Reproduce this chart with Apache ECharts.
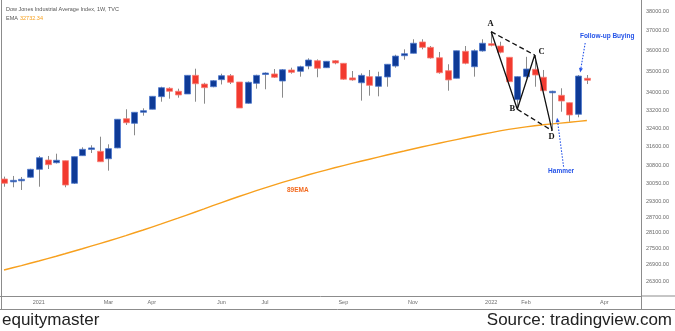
<!DOCTYPE html>
<html>
<head>
<meta charset="utf-8">
<script src="https://cdn.jsdelivr.net/npm/echarts@6/dist/echarts.min.js"></script>
<style>
  html, body { margin: 0; padding: 0; background: #ffffff; }
  #chart { width: 675px; height: 331px; }
</style>
</head>
<body>
<div id="chart"></div>
<script>
// Dow Jones Industrial Average, weekly candles, Dec 2020 – Mar 2022, with 89-week EMA
const firstWeek = Date.UTC(2020, 11, 7);
const totalSlots = 74;                 // axis runs a few weeks past the last candle
const weeks = [];
for (let k = 0; k < totalSlots; k++) {
  weeks.push(new Date(firstWeek + k * 7 * 864e5).toISOString().slice(0, 10));
}

const opens = [30225, 30131, 30155, 30297, 30628, 31019, 30903, 30989, 30050, 31202,
  31474, 31388, 31072, 31533, 32814, 32608, 33102, 33238, 33814, 34202,
  34063, 33938, 34811, 34401, 34276, 34607, 34795, 34497, 33511, 34434,
  34860, 34876, 34543, 35066, 35003, 35255, 35512, 35175, 35512, 35386,
  34689, 34461, 34748, 34294, 34733, 35255, 35754, 35872, 36430, 36165,
  35656, 35032, 34672, 35970, 35222, 35987, 36344, 36230, 35677, 33676,
  34748, 35100, 34720, 34000, 33876, 33537, 33012, 34672];
const closes = [30050, 30171, 30213, 30628, 31116, 30821, 31007, 29979, 31160, 31474,
  31533, 30946, 31502, 32789, 32634, 33102, 33175, 33830, 34231, 34063,
  33893, 34811, 34415, 34231, 34558, 34795, 34483, 33296, 34483, 34811,
  34921, 34720, 35079, 34954, 35222, 35546, 35147, 35483, 35400, 34627,
  34593, 34811, 34340, 34748, 35340, 35738, 35852, 36366, 36165, 35644,
  34936, 34593, 35998, 35386, 35998, 36366, 36263, 35922, 34511, 34748,
  35112, 34827, 34090, 34063, 33614, 32981, 34778, 34578];
const highs = [30324, 30351, 30309, 30650, 31190, 31190, 31286, 30989, 31160, 31560,
  31647, 32019, 31689, 32789, 33238, 33102, 33281, 33830, 34276, 34247,
  34184, 34811, 35127, 34461, 34590, 34888, 34870, 34497, 34520, 34840,
  34954, 35112, 35112, 35175, 35270, 35628, 35575, 35490, 35546, 35386,
  35017, 34905, 35066, 34983, 35340, 35802, 36066, 36565, 36565, 36230,
  35937, 35340, 35998, 36230, 36066, 36565, 36944, 36442, 35677, 34760,
  35700, 35787, 35066, 34090, 34202, 33537, 34827, 34827];
const lows = [29910, 29887, 29777, 30280, 29910, 30640, 30870, 29887, 30021, 31202,
  31316, 30946, 30571, 31520, 32535, 32081, 32950, 33238, 33582, 33721,
  33767, 33938, 33582, 33492, 34247, 34381, 34401, 33296, 33492, 34184,
  34156, 34689, 33767, 34889, 34748, 35100, 34720, 35160, 35340, 34600,
  34558, 33631, 33858, 33830, 34276, 35175, 35560, 35872, 36066, 35612,
  34889, 34090, 34672, 35340, 34748, 35950, 36214, 35872, 34497, 33238,
  34672, 34276, 34063, 32283, 33127, 32681, 32878, 34401];
const ema89 = [26702, 26782, 26862, 26947, 27031, 27120, 27208, 27298, 27391, 27484,
  27582, 27680, 27778, 27880, 27983, 28090, 28197, 28309, 28421, 28537,
  28654, 28775, 28897, 29020, 29146, 29270, 29394, 29514, 29631, 29748,
  29862, 29976, 30087, 30193, 30296, 30400, 30499, 30595, 30691, 30783,
  30875, 30964, 31052, 31141, 31231, 31316, 31401, 31487, 31573, 31655,
  31737, 31815, 31893, 31971, 32050, 32124, 32198, 32273, 32339, 32396,
  32450, 32498, 32543, 32583, 32618, 32654, 32694, 32732.34];

const yTicks = [38000, 37000, 36000, 35000, 34000, 33200, 32400, 31600,
  30800, 30050, 29300, 28700, 28100, 27500, 26900, 26300];
const monthLabels = {
  '2021-01-04': '2021', '2021-03-01': 'Mar', '2021-04-05': 'Apr', '2021-05-31': 'Jun',
  '2021-07-05': 'Jul', '2021-09-06': 'Sep', '2021-11-01': 'Nov', '2022-01-03': '2022',
  '2022-01-31': 'Feb', '2022-04-04': 'Apr'
};
const monthTickIdx = weeks.map((w, i) => (monthLabels[w] ? i : -1)).filter(i => i >= 0);

// Diamond-shaped reversal: A (top), B (low), C (lower high), D (lower low)
const patternNames = ['A', 'B', 'C', 'D'];
const patternWeeks = [56, 59, 61, 63];
const patternValues = [highs[56], lows[59], highs[61], lows[63]];

const BLUE = '#0e3a96', BLUE_EDGE = '#4f78cc';
const RED = '#f23a2f', RED_EDGE = '#f77d75';
const WICK = '#8a8a8a';
const AXIS = '#8c8c8c';
const EMA_COLOR = '#f7a01e';
const NOTE_BLUE = '#2453e8';

const candleData = opens.map((o, i) => [i, o, closes[i], lows[i], highs[i]]);
const emaData = ema89.map((v, i) => [i, v]);

const chart = echarts.init(document.getElementById('chart'), null, { renderer: 'canvas' });

chart.setOption({
  animation: false,
  backgroundColor: '#ffffff',
  grid: { left: 0, right: 34, top: 0, bottom: 35, containLabel: false, outerBoundsMode: 'none' },
  xAxis: {
    type: 'value',
    min: -0.46,
    max: 73.22,
    axisLine: { show: true, onZero: false, lineStyle: { color: AXIS, width: 1 } },
    axisTick: { show: false },
    splitLine: { show: false },
    axisLabel: {
      customValues: monthTickIdx,
      formatter: (v) => monthLabels[weeks[Math.round(v)]] || '',
      fontSize: 5.5,
      color: '#6e6e6e',
      fontFamily: 'Liberation Sans',
      margin: 3
    }
  },
  yAxis: {
    type: 'log',
    position: 'right',
    min: 25772,
    max: 38574,
    axisLine: { show: true, onZero: false, lineStyle: { color: AXIS, width: 1 } },
    axisTick: { show: false },
    splitLine: { show: false },
    axisLabel: {
      customValues: yTicks,
      formatter: (v) => Number(v).toFixed(2),
      fontSize: 5.5,
      color: '#6a6a6a',
      fontFamily: 'Liberation Sans',
      margin: 5
    }
  },
  series: [
    {
      name: 'EMA 89',
      type: 'line',
      data: emaData,
      symbol: 'none',
      smooth: false,
      lineStyle: { color: EMA_COLOR, width: 1.4 },
      z: 2
    },
    {
      name: 'DJI',
      type: 'custom',
      data: candleData,
      encode: { x: 0, y: [1, 2, 3, 4] },
      z: 3,
      renderItem: (params, api) => {
        const i = api.value(0);
        const o = api.value(1), c = api.value(2), l = api.value(3), h = api.value(4);
        const pO = api.coord([i, o]), pC = api.coord([i, c]);
        const pL = api.coord([i, l]), pH = api.coord([i, h]);
        const w = 6;
        const up = c >= o;
        const top = Math.min(pO[1], pC[1]);
        const bot = Math.max(pO[1], pC[1]);
        const x = Math.round(pO[0]);
        return {
          type: 'group',
          children: [
            { type: 'line', shape: { x1: x + 0.5, y1: pH[1], x2: x + 0.5, y2: pL[1] },
              style: { stroke: WICK, lineWidth: 1 } },
            { type: 'rect', shape: { x: x - w / 2 + 0.5, y: top, width: w, height: Math.max(bot - top, 1.5) },
              style: { fill: up ? BLUE : RED, stroke: up ? BLUE_EDGE : RED_EDGE, lineWidth: 0.8 } }
          ]
        };
      }
    },
    {
      name: 'pattern',
      type: 'line',
      data: patternWeeks.map((w, k) => [w, patternValues[k]]),
      symbol: 'none',
      lineStyle: { color: '#111111', width: 1.3 },
      z: 5
    },
    {
      name: 'pattern AC',
      type: 'line',
      data: [[patternWeeks[0], patternValues[0]], [patternWeeks[2], patternValues[2]]],
      symbol: 'none',
      lineStyle: { color: '#111111', width: 1.3, type: [5, 3] },
      z: 5
    },
    {
      name: 'pattern BD',
      type: 'line',
      data: [[patternWeeks[1], patternValues[1]], [patternWeeks[3], patternValues[3]]],
      symbol: 'none',
      lineStyle: { color: '#111111', width: 1.3, type: [5, 3] },
      z: 5
    }
  ]
});

// Annotations anchored on data points
const toPx = (i, v) => chart.convertToPixel({ xAxisIndex: 0, yAxisIndex: 0 }, [i, v]);

function dottedArrow(from, to) {
  const dx = to[0] - from[0], dy = to[1] - from[1];
  const len = Math.hypot(dx, dy);
  const ux = dx / len, uy = dy / len;
  const hl = 4.5, hw = 2;
  const base = [to[0] - ux * hl, to[1] - uy * hl];
  return [
    { type: 'line', shape: { x1: from[0], y1: from[1], x2: base[0], y2: base[1] },
      style: { stroke: NOTE_BLUE, lineWidth: 1.1, lineDash: [1.5, 1.5] }, z: 10 },
    { type: 'polygon', shape: { points: [to, [base[0] - uy * hw, base[1] + ux * hw], [base[0] + uy * hw, base[1] - ux * hw]] },
      style: { fill: NOTE_BLUE }, z: 10 }
  ];
}

const follow = toPx(66, highs[66]);
const hammer = toPx(63, lows[63]);
const emaMark = toPx(34, ema89[34]);

// letter offsets around each pattern vertex
const letterOffsets = [[-0.5, -8], [-5, 0], [7, -3], [-0.5, 6]];
const patternLetters = patternNames.map((name, k) => {
  const p = toPx(patternWeeks[k], patternValues[k]);
  return { type: 'text', z: 10, style: {
    x: p[0] + letterOffsets[k][0], y: p[1] + letterOffsets[k][1], text: name,
    font: 'bold 8.5px "Liberation Serif"', fill: '#111111',
    textAlign: 'center', textVerticalAlign: 'middle' } };
});

const graphics = [
  // frame
  { type: 'line', shape: { x1: 1.5, y1: 0, x2: 1.5, y2: 310 }, style: { stroke: AXIS, lineWidth: 1 } },
  { type: 'line', shape: { x1: 0, y1: 309.5, x2: 675, y2: 309.5 }, style: { stroke: AXIS, lineWidth: 1 } },
  { type: 'line', shape: { x1: 641, y1: 296, x2: 675, y2: 296 }, style: { stroke: AXIS, lineWidth: 1 } },
  { type: 'line', shape: { x1: 641.5, y1: 296, x2: 641.5, y2: 310 }, style: { stroke: AXIS, lineWidth: 1 } },
  // header
  { type: 'text', style: { x: 6, y: 9.5, text: 'Dow Jones Industrial Average Index, 1W, TVC',
      font: '5.5px "Liberation Sans"', fill: '#555555', textVerticalAlign: 'middle' } },
  { type: 'text', style: { x: 6, y: 18.5, text: 'EMA', font: '5.5px "Liberation Sans"',
      fill: '#555555', textVerticalAlign: 'middle' } },
  { type: 'text', style: { x: 20, y: 18.5, text: ema89[ema89.length - 1].toFixed(2),
      font: '5.5px "Liberation Sans"', fill: EMA_COLOR, textVerticalAlign: 'middle' } },
  // EMA label
  { type: 'text', style: { x: emaMark[0] - 2, y: emaMark[1] + 13, text: '89EMA',
      font: 'bold 6.5px "Liberation Sans"', fill: '#f26a1f', textAlign: 'center', textVerticalAlign: 'middle' } },
  ...patternLetters,
  // notes
  { type: 'text', style: { x: follow[0] + 29, y: follow[1] - 39, text: 'Follow-up Buying',
      font: 'bold 6.5px "Liberation Sans"', fill: NOTE_BLUE, textAlign: 'center', textVerticalAlign: 'middle' } },
  ...dottedArrow([follow[0] + 7, follow[1] - 32], [follow[0] + 2, follow[1] - 2.5]),
  { type: 'text', style: { x: hammer[0] + 9, y: hammer[1] + 41, text: 'Hammer',
      font: 'bold 6.5px "Liberation Sans"', fill: NOTE_BLUE, textAlign: 'center', textVerticalAlign: 'middle' } },
  ...dottedArrow([hammer[0] + 11.5, hammer[1] + 36], [hammer[0] + 5, hammer[1] - 13]),
  // footer
  { type: 'text', style: { x: 2, y: 320, text: 'equitymaster', font: '17px "Liberation Sans"',
      fill: '#222222', textVerticalAlign: 'middle' } },
  { type: 'text', style: { x: 672, y: 320, text: 'Source: tradingview.com', font: '17px "Liberation Sans"',
      fill: '#222222', textAlign: 'right', textVerticalAlign: 'middle' } }
];

chart.setOption({ graphic: graphics });
</script>
</body>
</html>
